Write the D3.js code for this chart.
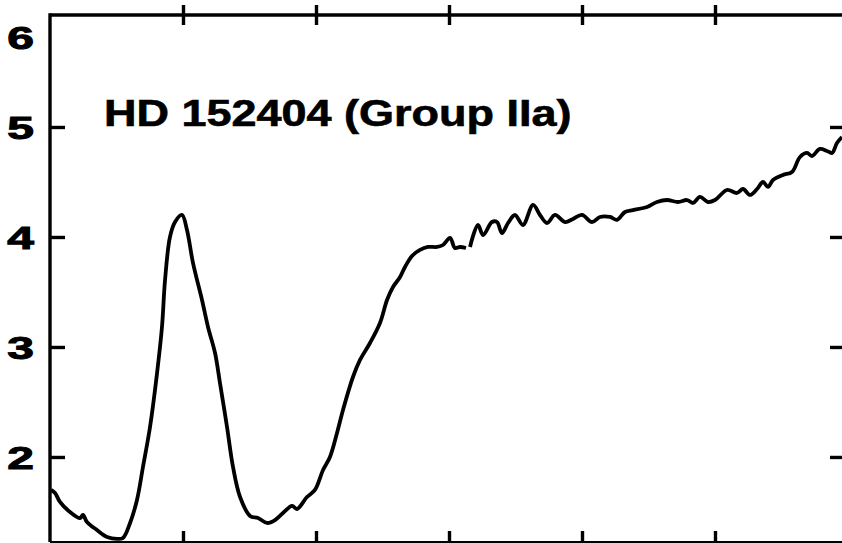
<!DOCTYPE html>
<html><head><meta charset="utf-8">
<script src="https://cdn.jsdelivr.net/npm/d3@7"></script>
<style>html,body{margin:0;padding:0;background:#fff;}svg{display:block;}</style>
</head><body>
<svg id="chart" width="842" height="543"></svg>
<script>
const title = "HD 152404 (Group IIa)";
const yTicks = [2, 3, 4, 5, 6];
const xTicks = [1, 2, 3, 4, 5];

const seg1X = [0.008,0.038,0.075,0.150,0.226,0.248,0.278,0.353,0.429,0.504,0.549,0.602,0.654,0.699,0.752,0.805,0.842,0.865,0.902,0.940,0.992,1.030,1.075,1.143,1.188,1.241,1.278,1.331,1.376,1.429,1.504,1.564,1.632,1.692,1.752,1.820,1.857,1.932,1.992,2.053,2.105,2.158,2.203,2.278,2.331,2.406,2.481,2.534,2.579,2.632,2.669,2.722,2.782,2.842,2.910,2.955,3.008,3.045,3.083,3.128];
const seg1Y = [1.700,1.673,1.591,1.500,1.445,1.473,1.409,1.336,1.273,1.255,1.264,1.400,1.609,1.909,2.273,2.764,3.182,3.609,4.000,4.136,4.200,4.064,3.764,3.427,3.182,2.945,2.673,2.273,1.909,1.636,1.464,1.445,1.400,1.427,1.491,1.555,1.527,1.636,1.700,1.882,2.000,2.218,2.427,2.727,2.882,3.036,3.218,3.427,3.545,3.636,3.727,3.827,3.882,3.909,3.909,3.927,3.991,3.900,3.909,3.900];

const seg2X = [3.158,3.218,3.256,3.323,3.361,3.398,3.444,3.496,3.556,3.632,3.684,3.737,3.797,3.872,3.932,4.000,4.075,4.135,4.211,4.263,4.323,4.383,4.489,4.564,4.639,4.722,4.789,4.835,4.887,4.947,5.000,5.090,5.165,5.211,5.263,5.316,5.361,5.398,5.436,5.511,5.579,5.639,5.692,5.729,5.789,5.842,5.880,5.917,5.955];
const seg2Y = [3.909,4.109,4.018,4.136,4.136,4.036,4.127,4.200,4.109,4.291,4.200,4.127,4.200,4.136,4.164,4.200,4.136,4.182,4.182,4.155,4.227,4.245,4.273,4.318,4.336,4.318,4.336,4.309,4.364,4.318,4.336,4.427,4.400,4.436,4.382,4.436,4.500,4.455,4.518,4.564,4.591,4.727,4.764,4.736,4.800,4.782,4.764,4.855,4.909];

const svg = d3.select("#chart");
const L = 50, R = 846, T = 15, B = 542;
const x = d3.scaleLinear().domain([0, 5.985]).range([L, R]);
const y = d3.scaleLinear().domain([6.018, 1.227]).range([T, B]);

svg.append("defs").append("clipPath").attr("id","clip")
  .append("rect").attr("x", L).attr("y", T).attr("width", R - L).attr("height", B - T);

const line = d3.line().x(d => x(d[0])).y(d => y(d[1])).curve(d3.curveCatmullRom.alpha(0.5));
const segs = [d3.zip(seg1X, seg1Y), d3.zip(seg2X, seg2Y)];
svg.append("g").attr("clip-path","url(#clip)")
  .selectAll("path").data(segs).join("path")
  .attr("d", line).attr("fill","none").attr("stroke","#000")
  .attr("stroke-width", 3.8).attr("stroke-linejoin","round").attr("stroke-linecap","butt");

// frame
const frame = svg.append("g").attr("stroke","#000").attr("stroke-width",3.4).attr("fill","none");
frame.append("line").attr("x1",L).attr("x2",R).attr("y1",T).attr("y2",T);
frame.append("line").attr("x1",L).attr("x2",L).attr("y1",T-1.7).attr("y2",B);
frame.append("line").attr("x1",L).attr("x2",R).attr("y1",B).attr("y2",B).attr("stroke-width",2);

// left ticks inward
svg.append("g").attr("transform",`translate(${L},0)`)
  .call(d3.axisRight(y).tickValues(yTicks.slice(0,4)).tickSize(15).tickFormat(""))
  .call(g => g.select(".domain").remove())
  .call(g => g.selectAll("line").attr("stroke","#000").attr("stroke-width",3.4));
// right ticks inward
svg.append("g").attr("transform",`translate(${R},0)`)
  .call(d3.axisLeft(y).tickValues(yTicks.slice(0,4)).tickSize(16).tickFormat(""))
  .call(g => g.select(".domain").remove())
  .call(g => g.selectAll("line").attr("stroke","#000").attr("stroke-width",3.4));
// top ticks crossing
svg.append("g").attr("transform",`translate(0,${T-10})`)
  .call(d3.axisBottom(x).tickValues(xTicks).tickSize(20).tickFormat(""))
  .call(g => g.select(".domain").remove())
  .call(g => g.selectAll("line").attr("stroke","#000").attr("stroke-width",3.4));
// bottom ticks inward
svg.append("g").attr("transform",`translate(0,${B})`)
  .call(d3.axisTop(x).tickValues(xTicks).tickSize(11).tickFormat(""))
  .call(g => g.select(".domain").remove())
  .call(g => g.selectAll("line").attr("stroke","#000").attr("stroke-width",3.4));

// y labels
const font = "'Liberation Sans', Arial, Helvetica, sans-serif";
svg.append("g").selectAll("text").data(yTicks).join("text")
  .attr("transform", d => `translate(34,${(d === 6 ? y(d) + 20 : y(d)) + 12}) scale(1.5,1)`)
  .attr("text-anchor","end")
  .attr("font-family", font).attr("font-weight","bold").attr("font-size", 32)
  .attr("fill","#000").attr("stroke","#000").attr("stroke-width",1)
  .text(d => d);

// title
svg.append("text")
  .attr("transform","translate(104,126) scale(1.25,1)")
  .attr("font-family", font).attr("font-weight","bold").attr("font-size", 36)
  .attr("fill","#000").attr("stroke","#000").attr("stroke-width",0.6).text(title);
</script>
</body></html>
